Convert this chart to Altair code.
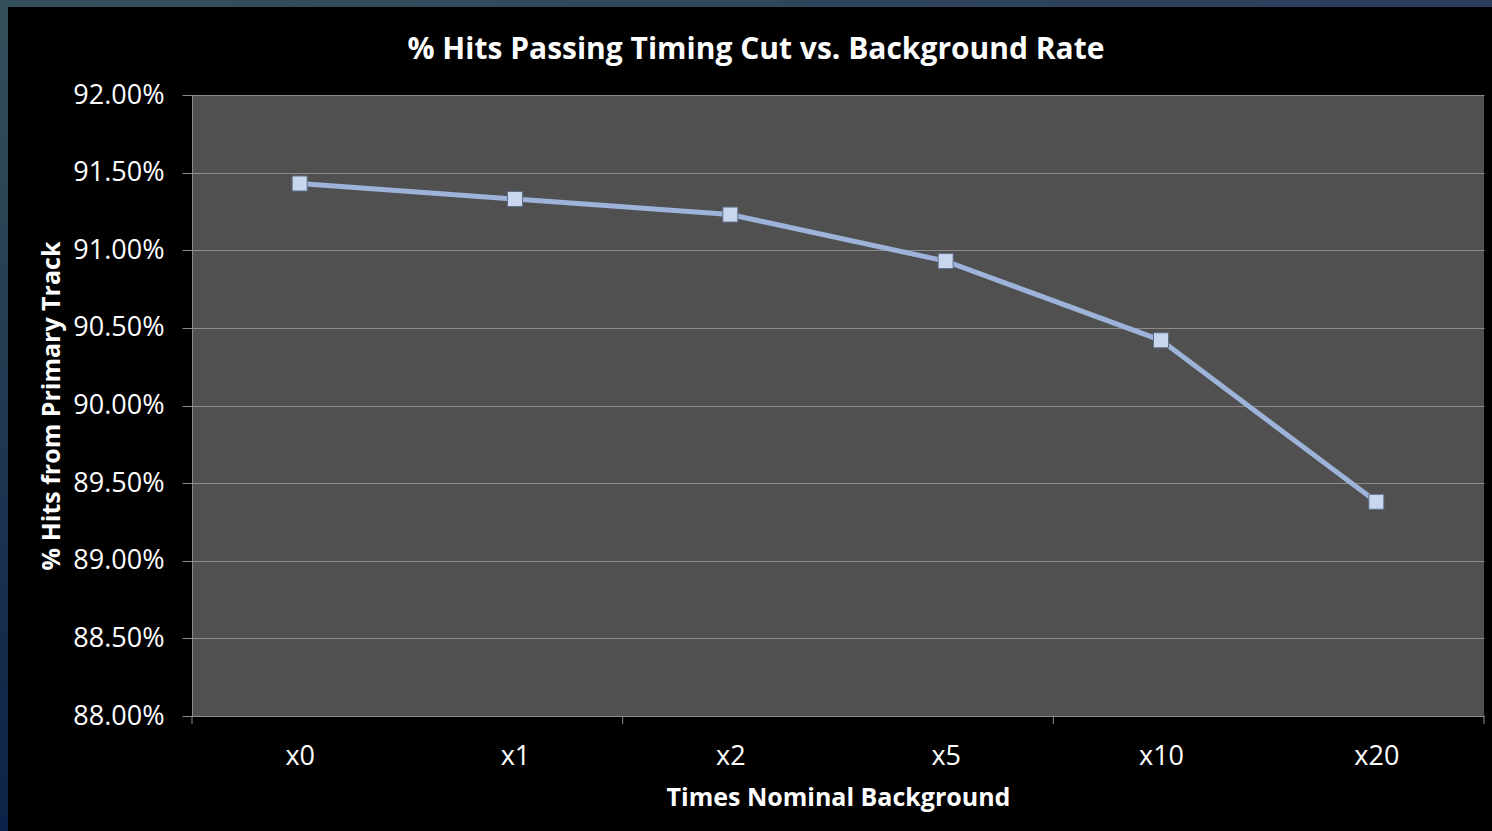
import altair as alt
import pandas as pd

categories = ["x0", "x1", "x2", "x5", "x10", "x20"]
values = [0.9143, 0.9133, 0.9123, 0.9093, 0.9042, 0.8938]
y_ticks = [0.88, 0.885, 0.89, 0.895, 0.90, 0.905, 0.91, 0.915, 0.92]
x_tick_positions = [0, 2, 4, 6]

df = pd.DataFrame({"cat": categories, "val": values})
ticks_df = pd.DataFrame({"pos": x_tick_positions})
one = pd.DataFrame({"a": [0]})

W, H = 1292, 621
FONT = "Open Sans"

x_enc = alt.X(
    "cat:N",
    sort=categories,
    scale=alt.Scale(paddingInner=0, paddingOuter=0),
    axis=alt.Axis(
        title="Times Nominal Background",
        labelAngle=0,
        ticks=False,
        labelPadding=27,
        titlePadding=16,
        domainColor="#8c8c8c",
    ),
)
y_enc = alt.Y(
    "val:Q",
    scale=alt.Scale(domain=[0.88, 0.92], nice=False, zero=False),
    axis=alt.Axis(
        title="% Hits from Primary Track",
        values=y_ticks,
        format=".2%",
        tickSize=10,
        labelPadding=18,
        titlePadding=8,
        domainColor="#8c8c8c",
        tickColor="#8c8c8c",
        gridColor="#8c8c8c",
    ),
)

line = alt.Chart(df).mark_line(color="#9db3da", strokeWidth=5).encode(x=x_enc, y=y_enc)
pts = alt.Chart(df).mark_point(
    shape="square", size=225, filled=True, fill="#c9d7ee", stroke="#5f6f8a",
    strokeWidth=1, opacity=1
).encode(x=alt.X("cat:N", sort=categories), y="val:Q")

xticks = alt.Chart(ticks_df).mark_rule(color="#8c8c8c", strokeWidth=1).encode(
    x=alt.X("pos:Q", scale=alt.Scale(domain=[0, 6], nice=False, zero=False), axis=None),
    y=alt.value(H),
    y2=alt.value(H + 8),
)

left_strip = alt.Chart(one).mark_rect(
    fill={"gradient": "linear", "x1": 0, "y1": 0, "x2": 0, "y2": 1,
          "stops": [{"offset": 0, "color": "#34505a"}, {"offset": 1, "color": "#0c2248"}]}
).encode(x=alt.value(-192), x2=alt.value(-184), y=alt.value(-95), y2=alt.value(H + 115))
top_strip = alt.Chart(one).mark_rect(
    fill={"gradient": "linear", "x1": 0, "y1": 0, "x2": 1, "y2": 0,
          "stops": [{"offset": 0, "color": "#34505a"}, {"offset": 1, "color": "#2b3c5c"}]}
).encode(x=alt.value(-192), x2=alt.value(W + 8), y=alt.value(-95), y2=alt.value(-88))

main = alt.layer(line, pts)

chart = alt.layer(main, xticks, left_strip, top_strip).resolve_scale(x="independent").properties(
    width=W,
    height=H,
    title=alt.TitleParams(
        "% Hits Passing Timing Cut vs. Background Rate",
        anchor="middle", frame="bounds", fontSize=30, fontWeight="bold",
        color="white", font=FONT, offset=0, dy=65, dx=10,
    ),
    padding={"left": 192, "top": 95, "right": 8, "bottom": 115},
    autosize=alt.AutoSizeParams(type="none"),
).configure(
    background="#000000",
    font=FONT,
).configure_view(
    fill="#505050", stroke=None,
).configure_axis(
    labelColor="white", labelFont=FONT, labelFontSize=27,
    titleColor="white", titleFont=FONT, titleFontSize=25, titleFontWeight="bold",
    grid=True, gridColor="#8c8c8c", gridWidth=1,
).configure_axisX(grid=False)

chart.save("out.html", embed_options={"renderer": "svg", "actions": False})
